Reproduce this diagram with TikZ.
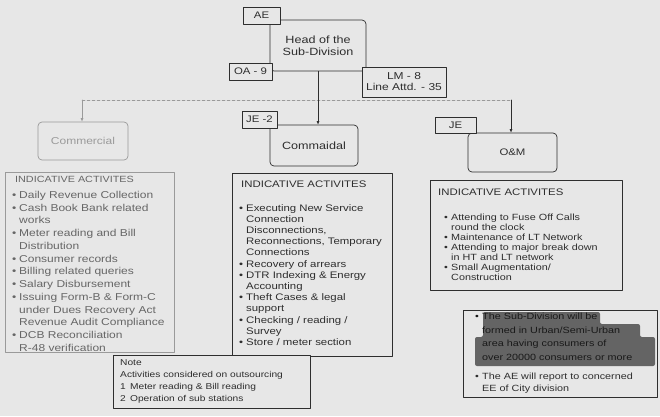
\documentclass[tikz,border=0pt]{standalone}
\usepackage{fontspec}
\newfontfamily\scanfont[FakeStretch=1.2]{Liberation Sans}
\usetikzlibrary{arrows.meta}
\definecolor{scanbg}{HTML}{E7E7E7}
\definecolor{ink}{HTML}{2E2E2E}
\definecolor{faint}{HTML}{9A9A9A}
\definecolor{smudge}{HTML}{646464}
\newcommand{\bul}{\makebox[7pt][l]{\textbullet}}
\newcommand{\ind}{\hspace*{7pt}}

\begin{document}
\begin{tikzpicture}[
  x=1pt, y=-1pt,
  >={Latex[length=3.5pt,width=3pt]},
  line cap=round, line join=round,
  unit/.style={draw=ink, line width=0.7pt, rounded corners=4pt, align=center, text=ink, inner sep=0pt},
  tag/.style={draw=ink, line width=0.7pt, fill=scanbg, align=center, text=ink, inner sep=0pt},
  panel/.style={draw=ink, line width=0.6pt, inner sep=0pt},
  list/.style={anchor=north west, align=left, inner sep=0pt, text=ink},
  link/.style={->, draw=ink, line width=0.6pt},
  bus/.style={draw=faint, line width=0.5pt, densely dashed},
]
\fill[scanbg] (0,0) rectangle (660,416);
\useasboundingbox (0,0) rectangle (660,416);

% ----- head of the sub-division -----
\node[unit, minimum width=96, minimum height=51, font={\scanfont\fontsize{10.5}{12}\selectfont}] (head) at (318,45.5) {Head of the\\Sub-Division};
\node[tag, minimum width=37, minimum height=17, font={\scanfont\fontsize{9.5}{11}\selectfont}] (ae) at (261.5,15.5) {AE};
\node[tag, minimum width=43, minimum height=17, font={\scanfont\fontsize{9.5}{11}\selectfont}] (oa) at (250.5,71.5) {OA - 9};
\node[tag, minimum width=84, minimum height=30, font={\scanfont\fontsize{10}{11}\selectfont}] (lm) at (404,82) {LM - 8\\Line Attd. - 35};

% ----- sections -----
\node[unit, draw=faint, text=faint, minimum width=90, minimum height=38, font={\scanfont\fontsize{10}{11}\selectfont}] (coml) at (83,141) {Commercial};
\node[unit, minimum width=88, minimum height=41, font={\scanfont\fontsize{10.5}{11}\selectfont}] (cmd) at (314,145.5) {Commaidal};
\node[tag, minimum width=35, minimum height=17, font={\scanfont\fontsize{9.5}{11}\selectfont}] (je2) at (259.5,119.5) {JE -2};
\node[unit, minimum width=89, minimum height=39, font={\scanfont\fontsize{9.5}{11}\selectfont}] (om) at (512.5,152.5) {O\&M};
\node[tag, minimum width=41, minimum height=16, font={\scanfont\fontsize{9.5}{11}\selectfont}] (je) at (455.5,125) {JE};

\coordinate (busl) at (82,100);
\coordinate (busr) at (511,100);
\draw[bus] (busl) -- (busr);
\draw[link, draw=faint] (busl) -- (busl |- coml.north);
\draw[link] (head.south) -- (head.south |- cmd.north);
\draw[link] (busr) -- (busr |- om.north);

% ----- indicative activities -----
\node[panel, draw=faint, minimum width=169, minimum height=180, anchor=north west] (comact) at (5,172) {};
\node[list, text=black!60, font={\scanfont\fontsize{9}{11}\selectfont}] (comhead) at (15,176) {INDICATIVE ACTIVITES};
\node[list, text=black!60, font={\scanfont\fontsize{10}{12.75}\selectfont}] (comlist) at (12,191)
  {\bul Daily Revenue Collection\\
   \bul Cash Book Bank related\\
   \ind works\\
   \bul Meter reading and Bill\\
   \ind Distribution\\
   \bul Consumer records\\
   \bul Billing related queries\\
   \bul Salary Disbursement\\
   \bul Issuing Form-B \& Form-C\\
   \ind under Dues Recovery Act\\
   \ind Revenue Audit Compliance\\
   \bul DCB Reconciliation\\
   \ind R-48 verification};

\node[panel, minimum width=160, minimum height=183, anchor=north west] (cmdact) at (232,173) {};
\node[list, font={\scanfont\fontsize{9.5}{11}\selectfont}] (cmdhead) at (241,181) {INDICATIVE ACTIVITES};
\node[list, font={\scanfont\fontsize{9.5}{11.2}\selectfont}] (cmdlist) at (239,204)
  {\bul Executing New Service\\
   \ind Connection\\
   \ind Disconnections,\\
   \ind Reconnections, Temporary\\
   \ind Connections\\
   \bul Recovery of arrears\\
   \bul DTR Indexing \& Energy\\
   \ind Accounting\\
   \bul Theft Cases \& legal\\
   \ind support\\
   \bul Checking / reading /\\
   \ind Survey\\
   \bul Store / meter section};

\node[panel, minimum width=192, minimum height=110, anchor=north west] (omact) at (430,180) {};
\node[list, font={\scanfont\fontsize{9.5}{11}\selectfont}] (omhead) at (438,189) {INDICATIVE ACTIVITES};
\node[list, font={\scanfont\fontsize{9}{10}\selectfont}] (omlist) at (444,214)
  {\bul Attending to Fuse Off Calls\\
   \ind round the clock\\
   \bul Maintenance of LT Network\\
   \bul Attending to major break down\\
   \ind in HT and LT network\\
   \bul Small Augmentation/\\
   \ind Construction};

% ----- notes -----
\node[panel, fill=scanbg, minimum width=197, minimum height=53, anchor=north west] (note) at (113,355) {};
\node[list, font={\scanfont\fontsize{8.5}{12}\selectfont}] (notetext) at (120,359)
  {Note\\
   Activities considered on outsourcing\\
   1\enspace Meter reading \& Bill reading\\
   2\enspace Operation of sub stations};

\node[panel, minimum width=194, minimum height=87, anchor=north west] (remark) at (463,310) {};
\fill[smudge, rounded corners=2pt] (483,312) -- (600,312) -- (600,324) -- (640,324) -- (640,337)
  -- (655,337) -- (655,366) -- (475,366) -- (475,337) -- (483,337) -- cycle;
\node[list, text=black!90, font={\scanfont\fontsize{9}{13.5}\selectfont}] (remtop) at (475,313)
  {\bul The Sub-Division will be\\
   \ind formed in Urban/Semi-Urban\\
   \ind area having consumers of\\
   \ind over 20000 consumers or more};
\node[list, font={\scanfont\fontsize{9}{11.5}\selectfont}] (remlow) at (475,373)
  {\bul The AE will report to concerned\\
   \ind EE of City division};
\end{tikzpicture}
\end{document}
